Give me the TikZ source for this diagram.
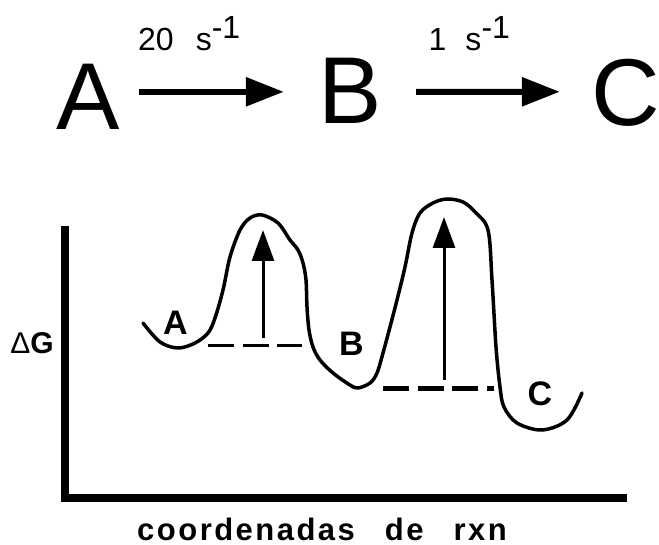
\documentclass[tikz,border=0pt]{standalone}
\usepackage{fontspec}
\setmainfont{Liberation Sans}
\usetikzlibrary{arrows.meta}

\begin{document}
\begin{tikzpicture}[
    x=1pt, y=-1pt,
    >={Triangle[length=38pt,width=28pt]},
    species/.style={inner sep=0pt, anchor=base, font=\fontsize{95}{95}\selectfont},
    rate/.style={inner sep=0pt, anchor=base west, font=\fontsize{32}{32}\selectfont},
    state/.style={inner sep=0pt, font=\fontsize{34}{34}\selectfont\bfseries},
    rxn/.style={->, line width=6pt},
    axis/.style={line width=7.5pt, line join=miter},
    profile/.style={line width=3.5pt, line join=round, line cap=round},
    level/.style={dash pattern=on 26pt off 8.5pt},
    barrier/.style={-{Triangle[length=31pt,width=22pt]}, line width=3pt}
  ]
    \useasboundingbox (0,0) rectangle (659,545);
    % reaction scheme
    \node[species] (nA) at (88,130) {A};
    \node[species] (nB) at (350,124) {B};
    \node[species] (nC) at (626,126) {C};
    \node[rate] (k1) at (138,51) {20\hspace{22pt}s\raisebox{12pt}{-1}};
    \node[rate] (k2) at (428.5,51) {1\hspace{19pt}s\raisebox{12pt}{-1}};
    \draw[rxn] ([shift={(19,-5.5)}]nA.east) -- ([shift={(-34.3,0.5)}]nB.west);
    \draw[rxn] ([shift={(34.3,0.5)}]nB.east) -- ([shift={(-31.7,-1.5)}]nC.west);
    % energy diagram
    \draw[axis] (65,226) -- (65,498) -- (627,498);
    \node[inner sep=0pt, font=\fontsize{30}{30}\selectfont] (dG) at (32,343.5) {Δ\textbf{G}};
    \draw[profile] plot[smooth, tension=0.55] coordinates {
      (143,323) (160,342) (178,348) (195,343) (208,333) (215,318) (223,290)
      (230,257) (240,230) (250,218) (262,215) (278,223) (290,240) (298,250)
      (303,263) (306,280) (307,307) (309,330) (313,347) (320,360) (333,373)
      (350,385) (358,388) (370,383) (377,373) (383,353) (390,327) (397,300)
      (405,267) (412,233) (420,213) (433,203) (447,199) (463,202) (475,212)
      (488,230) (492,280) (496,347) (500,387) (504,407) (517,423) (542,430)
      (567,420) (582,393)};
    \draw[level, line width=3pt] (208,346) -- (302,346);
    \draw[level, line width=5pt] (383,389) -- (494,389);
    \draw[barrier] (263,338) -- (263,230);
    \draw[barrier] (444,380) -- (444,217);
    \node[state] (sA) at (175.5,322.5) {A};
    \node[state] (sB) at (351.5,344) {B};
    \node[state] (sC) at (540,394) {C};
    \node[inner sep=0pt, anchor=base west, font=\fontsize{31}{31}\selectfont\bfseries\addfontfeatures{LetterSpace=8}] (xlab) at (137,540)
      {coordenadas\hspace{30pt}de\hspace{30pt}rxn};
\end{tikzpicture}
\end{document}
